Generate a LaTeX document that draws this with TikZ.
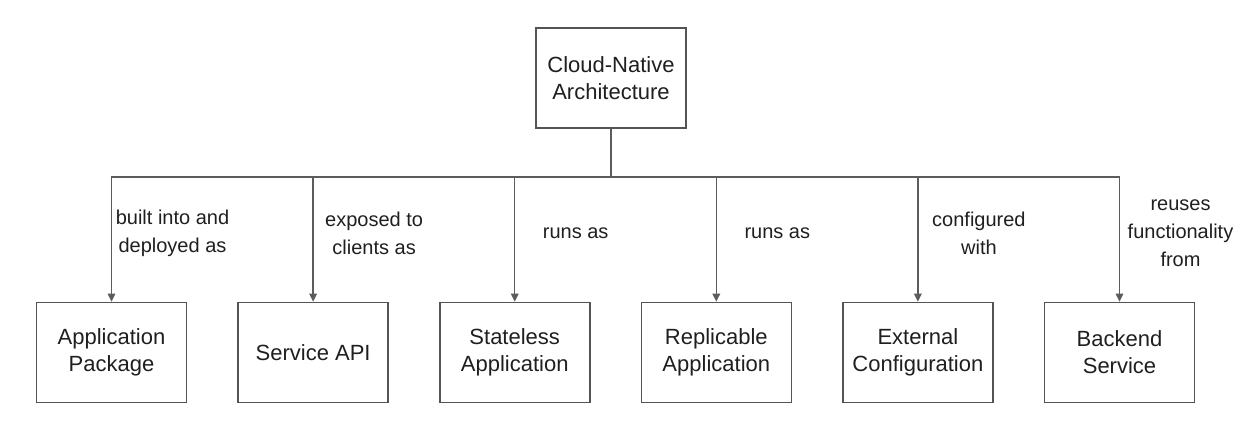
\documentclass[tikz,border=0pt]{standalone}
\usepackage{fontspec}
\setmainfont{Liberation Sans}
\usepackage{xcolor}
\usepackage{tikz}
\usetikzlibrary{positioning,arrows.meta}
\definecolor{boxgray}{gray}{0.33}
\definecolor{linegray}{gray}{0.36}
\definecolor{textdark}{gray}{0.12}
\tikzset{
  line/.style={-{Triangle[length=8pt, width=7.5pt]}, line width=1.5pt, draw=linegray},
  box/.style={draw=boxgray, line width=1.6pt, align=center, inner sep=2pt, text=textdark,
    font=\fontsize{22}{27}\selectfont, minimum width=150pt, minimum height=100pt},
  lbl/.style={align=center, text=textdark, font=\fontsize{20}{28}\selectfont}
}

\begin{document}
\begin{tikzpicture}[x=1pt, y=-1pt]
  \useasboundingbox (0,0) rectangle (1260,427);
  \node[box] (arch) at (611,78) {Cloud-Native\\Architecture};
  \node[box] (pkg) at (111.5,352.5) {Application\\Package};
  \node[box, right=50pt of pkg] (api) {Service API};
  \node[box, right=50pt of api] (stateless) {Stateless\\Application};
  \node[box, right=50pt of stateless] (replica) {Replicable\\Application};
  \node[box, right=50pt of replica] (config) {External\\Configuration};
  \node[box, right=50pt of config] (backend) {Backend\\Service};
  \coordinate (bus) at (611,177);

  \foreach \n in {pkg,api,stateless,replica,config,backend}
    \draw[line] (arch.south) -- (bus) -| (\n.north);

  \path (pkg.north) ++(61,-68) node[lbl] (lpkg) {built into and\\deployed as};
  \path (api.north) ++(61,-68) node[lbl] (lapi) {exposed to\\clients as};
  \path (stateless.north) ++(61,-68) node[lbl] (lstateless) {runs as};
  \path (replica.north) ++(61,-68) node[lbl] (lreplica) {runs as};
  \path (config.north) ++(61,-68) node[lbl] (lconfig) {configured\\with};
  \path (backend.north) ++(61,-68) node[lbl] (lbackend) {reuses\\functionality\\from};
\end{tikzpicture}
\end{document}
